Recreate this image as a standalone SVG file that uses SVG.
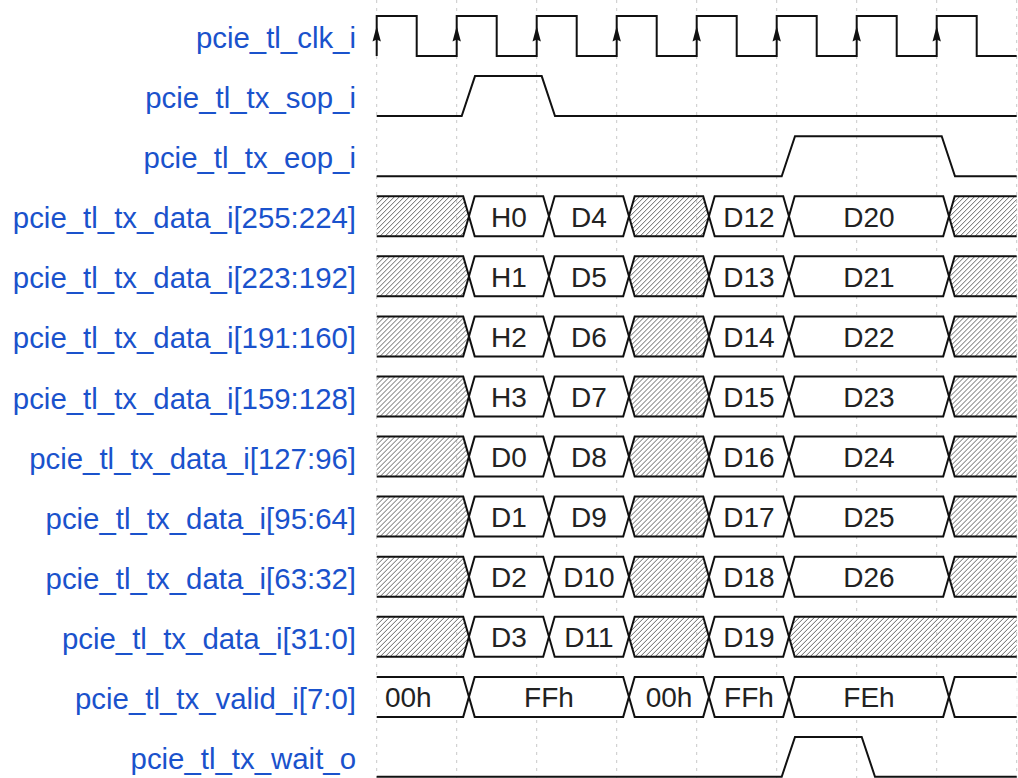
<svg xmlns="http://www.w3.org/2000/svg" xmlns:xlink="http://www.w3.org/1999/xlink" width="1018" height="778" viewBox="0 0 1018 778">
<style>
.lbl{font-family:"Liberation Sans",Arial,sans-serif;font-size:29.4px;fill:#1a52cc;text-anchor:end}
.dt{font-family:"Liberation Sans",Arial,sans-serif;font-size:28px;fill:#222;text-anchor:middle}
.w{fill:none;stroke:#111;stroke-width:2;stroke-linejoin:miter}
.box{fill:#fff;stroke:#111;stroke-width:2}
.hat{fill:url(#hatch);stroke:#111;stroke-width:2}
.grid{stroke:#c8c8c8;stroke-width:1;stroke-dasharray:3,5}
</style>
<defs>
<pattern id="hatch" patternUnits="userSpaceOnUse" width="5" height="5">
<path d="M-1,1 L1,-1 M0,5 L5,0 M4,6 L6,4" stroke="#666" stroke-width="1"/>
</pattern>
<path id="arr" d="M0,10 L-4.2,25.5 L0,23.5 L4.2,25.5 Z" fill="#111"/>
<g id="datarow">
<path class="hat" d="M376.7,0 H463.2 L468.95,20 L463.2,40 H376.7"/>
<path class="box" d="M468.95,20 L474.7,0 H543.2 L548.95,20 L543.2,40 H474.7 Z"/>
<path class="box" d="M548.95,20 L554.7,0 H623.2 L628.95,20 L623.2,40 H554.7 Z"/>
<path class="hat" d="M628.95,20 L634.7,0 H703.2 L708.95,20 L703.2,40 H634.7 Z"/>
<path class="box" d="M708.95,20 L714.7,0 H783.2 L788.95,20 L783.2,40 H714.7 Z"/>
</g>
</defs>
<rect width="1018" height="778" fill="#fff"/>
<g id="connectors">
<line class="grid" x1="376.7" y1="0" x2="376.7" y2="778"/>
<line class="grid" x1="456.7" y1="0" x2="456.7" y2="778"/>
<line class="grid" x1="536.7" y1="0" x2="536.7" y2="778"/>
<line class="grid" x1="616.7" y1="0" x2="616.7" y2="778"/>
<line class="grid" x1="696.7" y1="0" x2="696.7" y2="778"/>
<line class="grid" x1="776.7" y1="0" x2="776.7" y2="778"/>
<line class="grid" x1="856.7" y1="0" x2="856.7" y2="778"/>
<line class="grid" x1="936.7" y1="0" x2="936.7" y2="778"/>
<line class="grid" x1="1016.7" y1="0" x2="1016.7" y2="778"/>
</g>
<g id="clk" transform="translate(0,16)">
<text class="lbl" x="356" y="32">pcie_tl_clk_i</text>
<path class="w" d="M376.7,40 V0 H416.7 V40 H456.7 V0 H496.7 V40 H536.7 V0 H576.7 V40 H616.7 V0 H656.7 V40 H696.7 V0 H736.7 V40 H776.7 V0 H816.7 V40 H856.7 V0 H896.7 V40 H936.7 V0 H976.7 V40 H1016.7"/>
<use xlink:href="#arr" x="376.7"/><use xlink:href="#arr" x="456.7"/><use xlink:href="#arr" x="536.7"/><use xlink:href="#arr" x="616.7"/>
<use xlink:href="#arr" x="696.7"/><use xlink:href="#arr" x="776.7"/><use xlink:href="#arr" x="856.7"/><use xlink:href="#arr" x="936.7"/>
</g>
<g id="sop" transform="translate(0,76.1)">
<text class="lbl" x="356" y="32">pcie_tl_tx_sop_i</text>
<path class="w" d="M376.7,40 H461.7 L475,0 H541.7 L555,40 H1016.7"/>
</g>
<g id="eop" transform="translate(0,136.2)">
<text class="lbl" x="356" y="32">pcie_tl_tx_eop_i</text>
<path class="w" d="M376.7,40 H781.7 L795,0 H941.7 L955,40 H1016.7"/>
</g>
<g id="d255" transform="translate(0,196.2)">
<text class="lbl" x="356" y="32">pcie_tl_tx_data_i[255:224]</text>
<use xlink:href="#datarow"/>
<path class="box" d="M788.95,20 L794.7,0 H943.2 L948.95,20 L943.2,40 H794.7 Z"/>
<path class="hat" d="M1016.7,0 H954.7 L948.95,20 L954.7,40 H1016.7"/>
<text class="dt" x="509" y="30.5">H0</text><text class="dt" x="589" y="30.5">D4</text><text class="dt" x="749" y="30.5">D12</text><text class="dt" x="869" y="30.5">D20</text>
</g>
<g id="d223" transform="translate(0,256.3)">
<text class="lbl" x="356" y="32">pcie_tl_tx_data_i[223:192]</text>
<use xlink:href="#datarow"/>
<path class="box" d="M788.95,20 L794.7,0 H943.2 L948.95,20 L943.2,40 H794.7 Z"/>
<path class="hat" d="M1016.7,0 H954.7 L948.95,20 L954.7,40 H1016.7"/>
<text class="dt" x="509" y="30.5">H1</text><text class="dt" x="589" y="30.5">D5</text><text class="dt" x="749" y="30.5">D13</text><text class="dt" x="869" y="30.5">D21</text>
</g>
<g id="d191" transform="translate(0,316.4)">
<text class="lbl" x="356" y="32">pcie_tl_tx_data_i[191:160]</text>
<use xlink:href="#datarow"/>
<path class="box" d="M788.95,20 L794.7,0 H943.2 L948.95,20 L943.2,40 H794.7 Z"/>
<path class="hat" d="M1016.7,0 H954.7 L948.95,20 L954.7,40 H1016.7"/>
<text class="dt" x="509" y="30.5">H2</text><text class="dt" x="589" y="30.5">D6</text><text class="dt" x="749" y="30.5">D14</text><text class="dt" x="869" y="30.5">D22</text>
</g>
<g id="d159" transform="translate(0,376.5)">
<text class="lbl" x="356" y="32">pcie_tl_tx_data_i[159:128]</text>
<use xlink:href="#datarow"/>
<path class="box" d="M788.95,20 L794.7,0 H943.2 L948.95,20 L943.2,40 H794.7 Z"/>
<path class="hat" d="M1016.7,0 H954.7 L948.95,20 L954.7,40 H1016.7"/>
<text class="dt" x="509" y="30.5">H3</text><text class="dt" x="589" y="30.5">D7</text><text class="dt" x="749" y="30.5">D15</text><text class="dt" x="869" y="30.5">D23</text>
</g>
<g id="d127" transform="translate(0,436.6)">
<text class="lbl" x="356" y="32">pcie_tl_tx_data_i[127:96]</text>
<use xlink:href="#datarow"/>
<path class="box" d="M788.95,20 L794.7,0 H943.2 L948.95,20 L943.2,40 H794.7 Z"/>
<path class="hat" d="M1016.7,0 H954.7 L948.95,20 L954.7,40 H1016.7"/>
<text class="dt" x="509" y="30.5">D0</text><text class="dt" x="589" y="30.5">D8</text><text class="dt" x="749" y="30.5">D16</text><text class="dt" x="869" y="30.5">D24</text>
</g>
<g id="d95" transform="translate(0,496.6)">
<text class="lbl" x="356" y="32">pcie_tl_tx_data_i[95:64]</text>
<use xlink:href="#datarow"/>
<path class="box" d="M788.95,20 L794.7,0 H943.2 L948.95,20 L943.2,40 H794.7 Z"/>
<path class="hat" d="M1016.7,0 H954.7 L948.95,20 L954.7,40 H1016.7"/>
<text class="dt" x="509" y="30.5">D1</text><text class="dt" x="589" y="30.5">D9</text><text class="dt" x="749" y="30.5">D17</text><text class="dt" x="869" y="30.5">D25</text>
</g>
<g id="d63" transform="translate(0,556.7)">
<text class="lbl" x="356" y="32">pcie_tl_tx_data_i[63:32]</text>
<use xlink:href="#datarow"/>
<path class="box" d="M788.95,20 L794.7,0 H943.2 L948.95,20 L943.2,40 H794.7 Z"/>
<path class="hat" d="M1016.7,0 H954.7 L948.95,20 L954.7,40 H1016.7"/>
<text class="dt" x="509" y="30.5">D2</text><text class="dt" x="589" y="30.5">D10</text><text class="dt" x="749" y="30.5">D18</text><text class="dt" x="869" y="30.5">D26</text>
</g>
<g id="d31" transform="translate(0,616.8)">
<text class="lbl" x="356" y="32">pcie_tl_tx_data_i[31:0]</text>
<use xlink:href="#datarow"/>
<path class="hat" d="M1016.7,0 H794.7 L788.95,20 L794.7,40 H1016.7"/>
<text class="dt" x="509" y="30.5">D3</text><text class="dt" x="589" y="30.5">D11</text><text class="dt" x="749" y="30.5">D19</text>
</g>
<g id="valid" transform="translate(0,676.9)">
<text class="lbl" x="356" y="32">pcie_tl_tx_valid_i[7:0]</text>
<path class="box" d="M376.7,0 H463.2 L468.95,20 L463.2,40 H376.7"/>
<path class="box" d="M468.95,20 L474.7,0 H623.2 L628.95,20 L623.2,40 H474.7 Z"/>
<path class="box" d="M628.95,20 L634.7,0 H703.2 L708.95,20 L703.2,40 H634.7 Z"/>
<path class="box" d="M708.95,20 L714.7,0 H783.2 L788.95,20 L783.2,40 H714.7 Z"/>
<path class="box" d="M788.95,20 L794.7,0 H943.2 L948.95,20 L943.2,40 H794.7 Z"/>
<path class="box" d="M1016.7,0 H954.7 L948.95,20 L954.7,40 H1016.7"/>
<text class="dt" x="408.3" y="30.5">00h</text><text class="dt" x="549" y="30.5">FFh</text><text class="dt" x="669" y="30.5">00h</text><text class="dt" x="749" y="30.5">FFh</text><text class="dt" x="869" y="30.5">FEh</text>
</g>
<g id="wait" transform="translate(0,737)">
<text class="lbl" x="356" y="32">pcie_tl_tx_wait_o</text>
<path class="w" d="M376.7,39.7 H781.7 L795,0 H861.7 L875,39.7 H1016.7"/>
</g>
</svg>
